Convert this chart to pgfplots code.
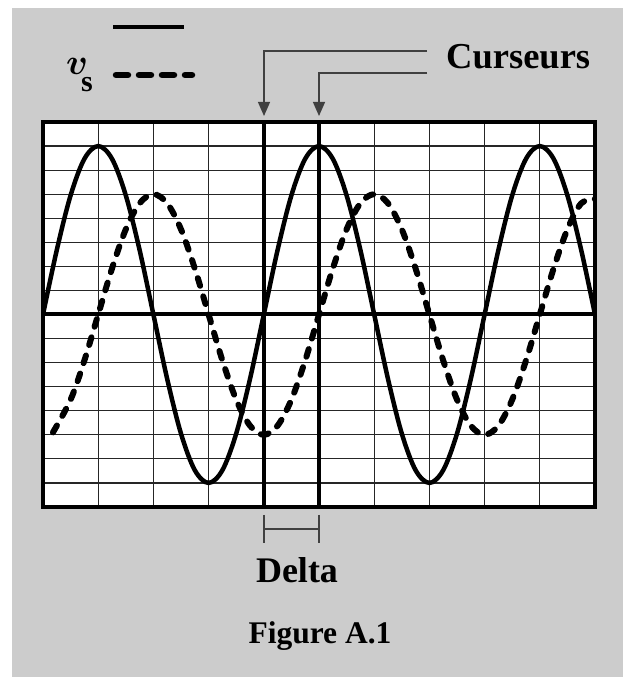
\documentclass[border=0pt]{standalone}
\usepackage{pgfplots}
\pgfplotsset{compat=1.18}
\usepackage{bm}
\usepackage{fontspec}
\setmainfont{Liberation Serif}
\usetikzlibrary{arrows.meta}
\definecolor{panel}{RGB}{204,204,204}

\begin{document}
\begin{tikzpicture}[x=1pt,y=1pt]
  % page and grey panel
  \fill[white] (0,0) rectangle (623,677);
  \fill[panel] (12,0) rectangle (623,669);

  \begin{axis}[
    at={(43pt,170pt)}, anchor=south west,
    scale only axis, width=552pt, height=385pt,
    xmin=0, xmax=10, ymin=-8, ymax=8,
    xtick={0,...,10}, ytick={-8,...,8},
    xticklabels={}, yticklabels={},
    major tick length=0pt,
    grid=major,
    major grid style={line width=1.2pt, black!85},
    axis line style={line width=4pt, line cap=rect},
    axis background/.style={fill=white},
  ]
    % centre line and the two cursors
    \draw[line width=4pt] (axis cs:0,0) -- (axis cs:10,0);
    \draw[line width=4pt] (axis cs:4,-8) -- (axis cs:4,8);
    \draw[line width=4pt] (axis cs:5,-8) -- (axis cs:5,8);

    % input signal (solid)
    \addplot[black, line width=4.5pt, smooth, tension=0.55] coordinates {
      (0,0) (0.25,2.68) (0.5,4.95) (0.75,6.47) (1,7) (1.25,6.47) (1.5,4.95) (1.75,2.68)
      (2,0) (2.25,-2.68) (2.5,-4.95) (2.75,-6.47) (3,-7) (3.25,-6.47) (3.5,-4.95) (3.75,-2.68)
      (4,0) (4.25,2.68) (4.5,4.95) (4.75,6.47) (5,7) (5.25,6.47) (5.5,4.95) (5.75,2.68)
      (6,0) (6.25,-2.68) (6.5,-4.95) (6.75,-6.47) (7,-7) (7.25,-6.47) (7.5,-4.95) (7.75,-2.68)
      (8,0) (8.25,2.68) (8.5,4.95) (8.75,6.47) (9,7) (9.25,6.47) (9.5,4.95) (9.75,2.68)
      (10,0)
    };

    % output signal v_s (dashed)
    \addplot[black, line width=6pt, line cap=round, dash pattern=on 8pt off 11pt,
             smooth, tension=0.55] coordinates {
      (0.18,-4.9) (0.5,-3.54) (0.75,-1.91)
      (1,0) (1.25,1.91) (1.5,3.54) (1.75,4.62) (2,5) (2.25,4.62) (2.5,3.54) (2.75,1.91)
      (3,0) (3.25,-1.91) (3.5,-3.54) (3.75,-4.62) (4,-5) (4.25,-4.62) (4.5,-3.54) (4.75,-1.91)
      (5,0) (5.25,1.91) (5.5,3.54) (5.75,4.62) (6,5) (6.25,4.62) (6.5,3.54) (6.75,1.91)
      (7,0) (7.25,-1.91) (7.5,-3.54) (7.75,-4.62) (8,-5) (8.25,-4.62) (8.5,-3.54) (8.75,-1.91)
      (9,0) (9.25,1.91) (9.5,3.54) (9.75,4.62) (10,4.8)
    };
  \end{axis}

  % legend
  \draw[line width=4.5pt] (113,650) -- (184,650);
  \draw[line width=6.5pt, line cap=round, dash pattern=on 12pt off 11pt] (116,602) -- (192,602);
  \node[anchor=base, inner sep=0pt, scale=1.75, font=\fontsize{20.74}{24}\selectfont]
    at (77,602) {$\bm{v}$};
  \node[anchor=base, inner sep=0pt, font=\fontsize{30}{32}\selectfont\bfseries] at (87,585) {s};

  % cursor annotation
  \draw[black!75, line width=1.2pt, -{Triangle[width=12pt,length=14pt]}]
    (427,626) -- (264,626) -- (264,561);
  \draw[black!75, line width=1.2pt, -{Triangle[width=12pt,length=14pt]}]
    (427,604) -- (319,604) -- (319,561);
  \node[anchor=base west, inner sep=0pt, font=\fontsize{36.5}{40}\selectfont\bfseries]
    at (446,608) {Curseurs};

  % delta bracket
  \draw[black!75, line width=1.2pt] (264,162) -- (264,134);
  \draw[black!75, line width=1.2pt] (319,162) -- (319,134);
  \draw[black!75, line width=1.2pt] (264,148) -- (319,148);
  \node[anchor=base, inner sep=0pt, font=\fontsize{36}{40}\selectfont\bfseries]
    at (297,94) {Delta};

  \node[anchor=base, inner sep=0pt, font=\fontsize{31.5}{34}\selectfont\bfseries]
    at (320,33) {Figure A.1};
\end{tikzpicture}
\end{document}
